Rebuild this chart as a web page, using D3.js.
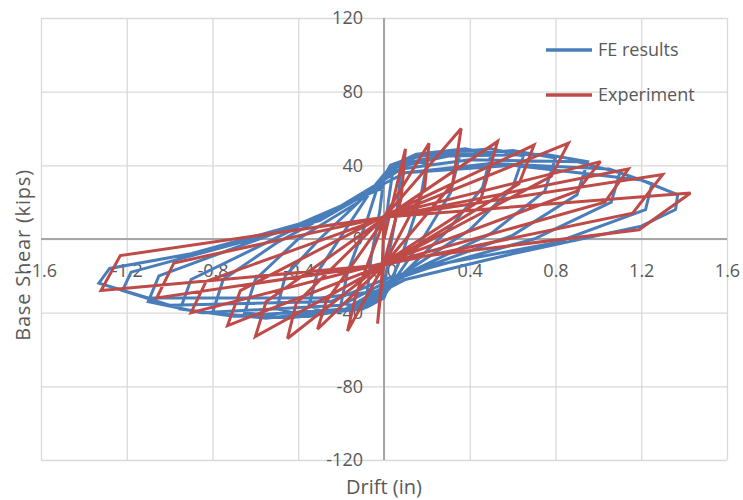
<!DOCTYPE html>
<html>
<head>
<meta charset="utf-8">
<script src="https://cdn.jsdelivr.net/npm/d3@7"></script>
<style>
  body { margin: 0; background: #fff; }
  text { font-family: "Open Sans", "DejaVu Sans", sans-serif; fill: #595959; }
</style>
</head>
<body>
<div id="chart"></div>
<script>
// tick values
var xTicks = [-1.6, -1.2, -0.8, -0.4, 0, 0.4, 0.8, 1.2, 1.6];
var yTicks = [-120, -80, -40, 0, 40, 80, 120];

// FE results: drift (in), base shear (kips)
var feResults = [
  [0,0],[0.02,20],[0.04,36],[0.08,38],[0.06,15],[0.02,-10],[0,-28],[-0.04,-32],[-0.08,-30],[-0.06,-10],[-0.02,15],[0,34],
  [0.03,40],[0.1,43],[0.2,41],[0.17,22],[0.08,-10],[0.02,-26],[0,-32],[-0.08,-37],[-0.2,-35],[-0.17,-18],[-0.08,10],[-0.02,32],
  [0.03,38],[0.12,44],[0.28,47],[0.35,44],[0.31,25],[0.18,0],[0.05,-22],[0,-31],[-0.1,-38],[-0.28,-40],[-0.35,-36],[-0.31,-18],[-0.18,5],[-0.05,28],[0,35],
  [0.04,40],[0.15,46],[0.38,49],[0.5,46],[0.46,28],[0.3,5],[0.08,-20],[0,-30],[-0.1,-37],[-0.35,-42],[-0.5,-38],[-0.46,-20],[-0.3,0],[-0.1,22],[0,34],
  [0.05,41],[0.2,46],[0.5,49],[0.65,45],[0.6,28],[0.4,5],[0.1,-18],[0,-28],[-0.12,-38],[-0.45,-43],[-0.65,-40],[-0.6,-22],[-0.4,0],[-0.12,20],[0,33],
  [0.06,40],[0.25,45],[0.6,48],[0.8,44],[0.75,26],[0.5,3],[0.12,-18],[0,-27],[-0.15,-38],[-0.55,-43],[-0.8,-40],[-0.75,-22],[-0.5,-2],[-0.15,20],[0,32],
  [0.06,39],[0.3,45],[0.75,46],[0.95,42],[0.9,24],[0.6,2],[0.15,-17],[0,-26],[-0.18,-38],[-0.7,-42],[-0.95,-38],[-0.9,-22],[-0.6,-5],[-0.2,18],[0,32],
  [0.08,38],[0.4,43],[0.9,42],[1.1,36],[1.06,20],[0.7,0],[0.2,-16],[0,-24],[-0.2,-36],[-0.85,-40],[-1.1,-34],[-1.05,-20],[-0.7,-5],[-0.25,14],[0,30],
  [0.1,36],[0.5,41],[1.05,38],[1.25,30],[1.22,16],[0.8,-2],[0.2,-15],[0,-22],[-0.25,-34],[-1.0,-36],[-1.22,-28],[-1.18,-18],[-0.8,-6],[-0.3,10],[0,30],
  [0.1,36],[0.6,40],[1.2,32],[1.37,24],[1.36,16],[1.2,7],[0.6,-8],[0.1,-22],[0,-28],[-0.3,-32],[-1.1,-32],[-1.33,-24],[-1.28,-16],[-0.9,-8],[-0.4,8],[0,28]
];

// Experiment: peak, unloading corner, pinch point, opposite peak ...
var experiment = [
  [0,0],
  [0.10,49],[0.08,22],[0,-13],[-0.03,-46],[-0.01,-20],[0,12],
  [0.21,52],[0.19,28],[0,-14],[-0.17,-50],[-0.13,-30],[0.01,13],
  [0.36,60],[0.32,30],[0,-14],[-0.31,-49],[-0.27,-34],[0.01,12],
  [0.53,53],[0.45,21],[0,-13],[-0.45,-54],[-0.41,-35],[0.01,13],
  [0.70,51],[0.63,30],[-0.01,-15],[-0.60,-53],[-0.55,-34],[0.01,12],
  [0.86,52],[0.78,34],[0,-14],[-0.73,-47],[-0.67,-28],[0.01,13],
  [1.01,42],[0.90,26],[0,-13],[-0.90,-40],[-0.83,-23],[0.01,12],
  [1.14,38],[1.03,20],[-0.01,-14],[-1.06,-32],[-0.98,-13],[0.01,12],
  [1.30,35],[1.16,14],[0,-14],[-1.32,-28],[-1.23,-9],[0.01,12],
  [1.43,25],[1.19,5],[0,-12]
];

var seriesNames = ["FE results", "Experiment"];
var seriesColors = ["#4a7ebb", "#be4b48"];

var width = 743, height = 500;
var svg = d3.select("#chart").append("svg")
    .attr("width", width)
    .attr("height", height);

var x = d3.scaleLinear().domain([-1.6, 1.6]).range([41, 727]);
var y = d3.scaleLinear().domain([-120, 120]).range([460, 18]);

// gridlines
svg.append("g")
    .attr("transform", "translate(0," + y(-120) + ")")
    .call(d3.axisBottom(x).tickValues(xTicks).tickSize(-(y(-120) - y(120))).tickFormat(""))
    .call(function(g) { g.select(".domain").remove(); })
    .selectAll("line").attr("stroke", "#d9d9d9").attr("stroke-width", 1.3);

svg.append("g")
    .attr("transform", "translate(" + x(-1.6) + ",0)")
    .call(d3.axisLeft(y).tickValues(yTicks).tickSize(-(x(1.6) - x(-1.6))).tickFormat(""))
    .call(function(g) { g.select(".domain").remove(); })
    .selectAll("line").attr("stroke", "#d9d9d9").attr("stroke-width", 1.3);

// zero axes
svg.append("line")
    .attr("x1", x(-1.6)).attr("x2", x(1.6))
    .attr("y1", y(0)).attr("y2", y(0))
    .attr("stroke", "#a6a6a6").attr("stroke-width", 2);
svg.append("line")
    .attr("x1", x(0)).attr("x2", x(0))
    .attr("y1", y(120)).attr("y2", y(-120))
    .attr("stroke", "#a6a6a6").attr("stroke-width", 2);

// tick labels
var xAxis = svg.append("g")
    .attr("transform", "translate(0," + y(0) + ")")
    .call(d3.axisBottom(x).tickValues(xTicks).tickSize(0).tickPadding(25)
        .tickFormat(function(d) { return d.toFixed(1); }));
xAxis.select(".domain").remove();
xAxis.selectAll("text").attr("font-size", 18).attr("font-family", null).style("fill", "#595959");

var yAxis = svg.append("g")
    .attr("transform", "translate(" + x(0) + ",0)")
    .call(d3.axisLeft(y).tickValues(yTicks).tickSize(0).tickPadding(21)
        .tickFormat(function(d) { return String(d); }));
yAxis.select(".domain").remove();
yAxis.selectAll("text").attr("font-size", 18).attr("font-family", null).style("fill", "#595959");

// series
var line = d3.line()
    .x(function(d) { return x(d[0]); })
    .y(function(d) { return y(d[1]); });

[feResults, experiment].forEach(function(data, i) {
  svg.append("path")
      .datum(data)
      .attr("d", line)
      .attr("fill", "none")
      .attr("stroke", seriesColors[i])
      .attr("stroke-width", 3)
      .attr("stroke-linejoin", "miter")
      .attr("stroke-miterlimit", 3);
});

// legend
var legend = svg.append("g");
seriesNames.forEach(function(name, i) {
  var ly = 50 + i * 45;
  legend.append("line")
      .attr("x1", 546).attr("x2", 592)
      .attr("y1", ly).attr("y2", ly)
      .attr("stroke", seriesColors[i]).attr("stroke-width", 3.5);
  legend.append("text")
      .attr("x", 598).attr("y", ly)
      .attr("dy", "0.35em")
      .attr("font-size", 18)
      .text(name);
});

// axis titles
svg.append("text")
    .attr("x", x(0)).attr("y", 487)
    .attr("text-anchor", "middle")
    .attr("dy", "0.35em")
    .attr("font-size", 20)
    .text("Drift (in)");

svg.append("text")
    .attr("transform", "translate(23,255) rotate(-90)")
    .attr("text-anchor", "middle")
    .attr("dy", "0.35em")
    .attr("font-size", 20)
    .attr("letter-spacing", 0.8)
    .text("Base Shear (kips)");
</script>
</body>
</html>
